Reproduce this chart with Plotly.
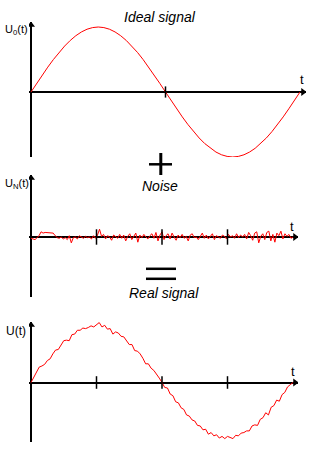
import plotly.graph_objects as go

# ---------------- data ----------------
# ideal signal, one period, sampled every 7.5 degrees
ideal_t = [i / 48 for i in range(49)]
ideal_u = [0, 0.131, 0.259, 0.383, 0.5, 0.609, 0.707, 0.793, 0.866, 0.924, 0.966, 0.991, 1.0,
           0.991, 0.966, 0.924, 0.866, 0.793, 0.707, 0.609, 0.5, 0.383, 0.259, 0.131, 0,
           -0.131, -0.259, -0.383, -0.5, -0.609, -0.707, -0.793, -0.866, -0.924, -0.966, -0.991, -1.0,
           -0.991, -0.966, -0.924, -0.866, -0.793, -0.707, -0.609, -0.5, -0.383, -0.259, -0.131, 0]

# noise
noise_t = [i / 130 for i in range(131)]
noise_u = [-0.02, -0.03, -0.04, -0.01, 0.02, 0.08, 0.06, 0.07, 0.07, 0.07, 0.07, 0.06, 0.02, -0.01, -0.02,
           0.0, -0.03, -0.01, -0.04, 0.02, -0.09, -0.01, 0.0, -0.03, 0.02, 0.0, -0.02, 0.01, -0.01, 0.0,
           -0.03, 0.02, -0.02, 0.03, 0.12, 0.01, 0.04, -0.03, 0.02, 0.0, -0.05, 0.03, 0.01, -0.02, 0.04,
           -0.02, 0.03, -0.06, 0.01, 0.05, -0.04, 0.02, 0.06, -0.08, 0.03, -0.01, 0.04, 0.0, -0.03, 0.02,
           0.05, -0.02, 0.07, -0.06, 0.03, 0.08, -0.04, 0.02, 0.05, -0.03, 0.06, 0.0, -0.05, 0.03, -0.01,
           0.04, -0.02, 0.01, -0.06, 0.03, 0.05, -0.01, 0.0, -0.04, 0.02, 0.06, -0.02, 0.03, -0.03, 0.01,
           0.05, -0.04, 0.02, 0.0, -0.02, 0.03, 0.01, -0.03, 0.04, 0.0, 0.02, -0.02, 0.05, -0.01, 0.03,
           0.0, 0.04, -0.03, 0.07, 0.02, -0.05, 0.06, 0.08, -0.09, 0.01, 0.05, -0.04, 0.07, 0.09, -0.06,
           0.04, -0.08, 0.06, 0.02, 0.09, -0.03, 0.05, 0.01, 0.04, -0.02, 0.0]

# real signal
real_t = [i / 96 for i in range(97)]
real_u = [0, 0.10, 0.18, 0.28, 0.30, 0.33, 0.40, 0.43, 0.52, 0.59, 0.60, 0.69, 0.76, 0.77, 0.76, 0.87,
          0.88, 0.95, 0.95, 0.99, 0.98, 1.0, 1.03, 1.01, 1.05,
          1.09, 1.01, 1.04, 0.97, 0.98, 0.88, 0.92, 0.90, 0.84, 0.83, 0.75, 0.69, 0.69, 0.58, 0.57,
          0.52, 0.44, 0.34, 0.34, 0.26, 0.22, 0.16, 0.08, 0,
          -0.09, -0.10, -0.21, -0.24, -0.35, -0.37, -0.46, -0.49, -0.59, -0.61, -0.68, -0.70, -0.78,
          -0.79, -0.86, -0.85, -0.94, -0.91, -0.97, -0.95, -1.01, -0.98, -1.02, -0.98,
          -1.0, -1.02, -0.96, -0.97, -0.92, -0.91, -0.88, -0.88, -0.79, -0.77, -0.78, -0.67, -0.64,
          -0.55, -0.59, -0.45, -0.42, -0.32, -0.34, -0.22, -0.18, -0.08, -0.04, 0]

ticks_ideal = [0.5]
ticks_noise = [0.25, 0.5, 0.75]
ticks_real = [0.25, 0.5, 0.75]

# ---------------- layout (pixels) ----------------
W, H = 314, 450
panels = [
    # xdom px, t0 px, period px, ydom px (top,bottom), zero px, px per unit
    dict(xd=(29, 306), t0=31, per=269, yd=(22, 157), zero=92, sc=65),
    dict(xd=(29, 298), t0=31, per=262, yd=(175, 297), zero=237, sc=65),
    dict(xd=(29, 298), t0=31, per=262, yd=(322, 442), zero=382.5, sc=55),
]

fig = go.Figure()
layout = dict(width=W, height=H, margin=dict(l=0, r=0, t=0, b=0),
              paper_bgcolor="white", plot_bgcolor="rgba(0,0,0,0)", showlegend=False)

series = [(ideal_t, ideal_u, ticks_ideal, 8), (noise_t, noise_u, ticks_noise, 11), (real_t, real_u, ticks_real, 9)]

for k, p in enumerate(panels):
    sfx = "" if k == 0 else str(k + 1)
    xr = [(p["xd"][0] - p["t0"]) / p["per"], (p["xd"][1] - p["t0"]) / p["per"]]
    yr = [(p["zero"] - p["yd"][1]) / p["sc"], (p["zero"] - p["yd"][0]) / p["sc"]]
    common = dict(showgrid=False, showticklabels=False, ticks="", showline=False,
                  zeroline=True, zerolinecolor="black", zerolinewidth=2, fixedrange=True)
    layout["xaxis" + sfx] = dict(domain=[p["xd"][0] / W, p["xd"][1] / W], range=xr,
                                 anchor="y" + sfx, **common)
    layout["yaxis" + sfx] = dict(domain=[1 - p["yd"][1] / H, 1 - p["yd"][0] / H], range=yr,
                                 anchor="x" + sfx, **common)
    t, u, tk, tsize = series[k]
    fig.add_trace(go.Scatter(x=t, y=u, mode="lines", line=dict(color="#ff0000", width=1),
                             xaxis="x" + sfx, yaxis="y" + sfx, hoverinfo="skip"))
    fig.add_trace(go.Scatter(x=tk, y=[0] * len(tk), mode="markers",
                             marker=dict(symbol="line-ns", size=tsize, line=dict(color="black", width=1.5)),
                             xaxis="x" + sfx, yaxis="y" + sfx, hoverinfo="skip"))
    # arrow heads
    fig.add_trace(go.Scatter(x=[0], y=[yr[1] - 3 / p["sc"]], mode="markers",
                             marker=dict(symbol="triangle-up", size=7, color="black"),
                             xaxis="x" + sfx, yaxis="y" + sfx, hoverinfo="skip"))
    fig.add_trace(go.Scatter(x=[xr[1] - 3 / p["per"]], y=[0], mode="markers",
                             marker=dict(symbol="triangle-right", size=7, color="black"),
                             xaxis="x" + sfx, yaxis="y" + sfx, hoverinfo="skip"))

FONT = "Liberation Sans, Arial, sans-serif"


def txt(s, x, y, size=13, xanchor="center"):
    return dict(text=s, x=x / W, y=1 - y / H, xref="paper", yref="paper", showarrow=False,
                xanchor=xanchor, yanchor="middle", font=dict(family=FONT, size=size, color="black"))


annotations = [
    txt("U<sub>0</sub>(t)", 3, 30, 11, "left"),
    txt("<i>Ideal signal</i>", 160, 17, 14),
    txt("t", 302, 79, 13),
    txt("U<sub>N</sub>(t)", 3, 184, 11, "left"),
    txt("<i>Noise</i>", 160, 186, 14),
    txt("t", 292, 226, 13),
    txt("<i>Real signal</i>", 164, 293, 14),
    txt("U(t)", 4, 331, 12, "left"),
    txt("t", 293, 371, 13),
]
layout["annotations"] = annotations


def pline(x0, y0, x1, y1, w):
    return dict(type="line", xref="paper", yref="paper", x0=x0 / W, x1=x1 / W,
                y0=1 - y0 / H, y1=1 - y1 / H, line=dict(color="black", width=w))


layout["shapes"] = [
    pline(149, 164.3, 172, 164.3, 2.5),   # plus
    pline(160.8, 153, 160.8, 175, 3),
    pline(146, 268.8, 176, 268.8, 2.5),   # equals
    pline(146, 278.8, 176, 278.8, 2.5),
]

fig.update_layout(**layout)
fig.write_html("out.html")
